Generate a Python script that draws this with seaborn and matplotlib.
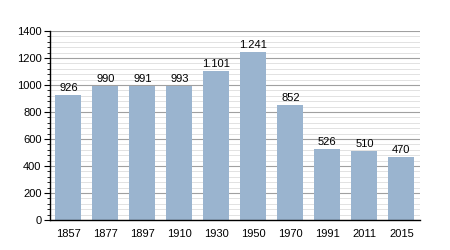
import matplotlib
matplotlib.use("Agg")
import matplotlib.pyplot as plt
import seaborn as sns
import pandas as pd
from matplotlib.ticker import MultipleLocator

years = ["1857", "1877", "1897", "1910", "1930", "1950", "1970", "1991", "2011", "2015"]
population = [926, 990, 991, 993, 1101, 1241, 852, 526, 510, 470]
labels = ["926", "990", "991", "993", "1.101", "1.241", "852", "526", "510", "470"]

sns.set_style("white")
plt.rcParams['font.family'] = ['Liberation Sans', 'DejaVu Sans']
plt.rcParams['text.color'] = 'black'
plt.rcParams['xtick.color'] = 'black'
plt.rcParams['ytick.color'] = 'black'

df = pd.DataFrame({"year": years, "pop": population})
fig = plt.figure(figsize=(4.5, 2.5), dpi=100)
ax = fig.add_axes([0.111, 0.12, 0.822, 0.756])
sns.barplot(data=df, x="year", y="pop", color="#9AB4CF", saturation=1, width=0.7,
            edgecolor="none", linewidth=0, ax=ax, zorder=3)
ax.set_ylim(0, 1400)
ax.set_xlim(-0.5, len(years) - 0.5)
ax.yaxis.set_major_locator(MultipleLocator(200))
ax.yaxis.set_minor_locator(MultipleLocator(40))
ax.grid(axis="y", which="major", color="#a0a0a0", linewidth=0.8, zorder=0)
ax.grid(axis="y", which="minor", color="#dddddd", linewidth=0.6, zorder=0)
ax.set_axisbelow(True)
for s in ["top", "right"]:
    ax.spines[s].set_visible(False)
for s in ["left", "bottom"]:
    ax.spines[s].set_color("black")
    ax.spines[s].set_linewidth(1)
    ax.spines[s].set_zorder(5)
ax.tick_params(axis="y", which="major", left=True, length=4, width=0.8, labelsize=8, pad=2)
ax.tick_params(axis="y", which="minor", left=True, length=2, width=0.6)
ax.tick_params(axis="x", bottom=False, labelsize=8, pad=3)
ax.set_xlabel("")
ax.set_ylabel("")
for p, lab in zip(ax.patches, labels):
    ax.text(p.get_x() + p.get_width() / 2, p.get_height() + 15, lab,
            ha="center", va="bottom", fontsize=8)
fig.savefig("out.png", dpi=100)
